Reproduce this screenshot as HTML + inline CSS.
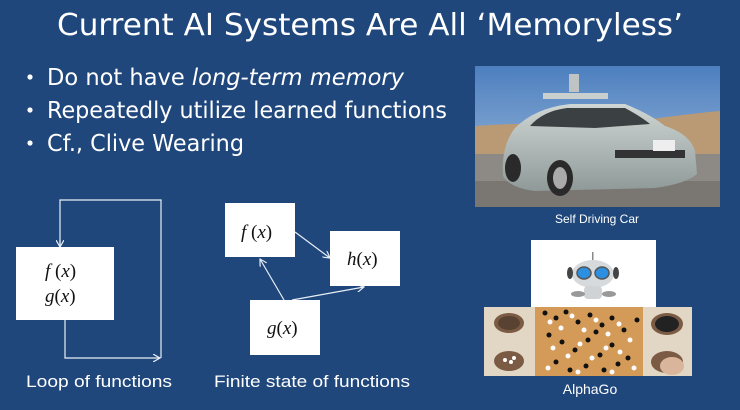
<!DOCTYPE html>
<html><head><meta charset="utf-8"><style>
html,body{margin:0;padding:0;background:#1f477c;}
svg{display:block}
</style></head><body>
<svg width="740" height="410" viewBox="0 0 740 410" xmlns="http://www.w3.org/2000/svg">
<defs>
<marker id="ar" markerWidth="8" markerHeight="8" refX="7" refY="4" orient="auto" markerUnits="userSpaceOnUse">
<path d="M0,0 L7,4 L0,8" fill="none" stroke="#e8eef6" stroke-width="1.2"/>
</marker>
<linearGradient id="sky" x1="0" y1="0" x2="0" y2="1"><stop offset="0" stop-color="#4d7fbf"/><stop offset="1" stop-color="#a9c4df"/></linearGradient>
<linearGradient id="body" x1="0" y1="0" x2="0" y2="1"><stop offset="0" stop-color="#cfd6d4"/><stop offset="1" stop-color="#8f9a98"/></linearGradient>
</defs>
<rect width="740" height="410" fill="#1f477c"/>
<text x="370" y="35" text-anchor="middle" font-family="DejaVu Sans, Liberation Sans, sans-serif" font-size="30" fill="#fff" textLength="626" lengthAdjust="spacingAndGlyphs">Current AI Systems Are All ‘Memoryless’</text>
<g font-family="DejaVu Sans, Liberation Sans, sans-serif" font-size="23" fill="#fff">
<circle cx="30" cy="77" r="2.6"/><circle cx="30" cy="110" r="2.6"/><circle cx="30" cy="143" r="2.6"/>
<text x="47" y="85" textLength="357" lengthAdjust="spacingAndGlyphs">Do not have <tspan font-style="italic">long-term memory</tspan></text>
<text x="47" y="118" textLength="400" lengthAdjust="spacingAndGlyphs">Repeatedly utilize learned functions</text>
<text x="47" y="151" textLength="197" lengthAdjust="spacingAndGlyphs">Cf., Clive Wearing</text>
</g>
<g stroke="#e8eef6" stroke-width="1.2" fill="none">
<polyline points="60,247 60,200 161,200 161,358" />
<line x1="60" y1="240" x2="60" y2="247" marker-end="url(#ar)"/>
<polyline points="65,320 65,358 160,358" marker-end="url(#ar)"/>
<line x1="295" y1="232" x2="330" y2="258" marker-end="url(#ar)"/>
<line x1="284" y1="300" x2="260" y2="259" marker-end="url(#ar)"/>
<line x1="292" y1="300" x2="364" y2="287" marker-end="url(#ar)"/>
</g>
<rect x="16" y="247" width="98" height="73" fill="#fff"/>
<rect x="225" y="203" width="70" height="54" fill="#fff"/>
<rect x="330" y="231" width="70" height="55" fill="#fff"/>
<rect x="250" y="300" width="70" height="55" fill="#fff"/>
<g font-family="Liberation Serif, serif" font-size="19" fill="#111">
<text x="45" y="277"><tspan font-style="italic">f</tspan> (<tspan font-style="italic">x</tspan>)</text>
<text x="45" y="302"><tspan font-style="italic">g</tspan>(<tspan font-style="italic">x</tspan>)</text>
<text x="241" y="238"><tspan font-style="italic">f</tspan> (<tspan font-style="italic">x</tspan>)</text>
<text x="347" y="265"><tspan font-style="italic">h</tspan>(<tspan font-style="italic">x</tspan>)</text>
<text x="267" y="334"><tspan font-style="italic">g</tspan>(<tspan font-style="italic">x</tspan>)</text>
</g>
<g font-family="Liberation Sans, sans-serif" font-size="17" fill="#fff">
<text x="26" y="387" textLength="146" lengthAdjust="spacingAndGlyphs">Loop of functions</text>
<text x="214" y="387" textLength="196" lengthAdjust="spacingAndGlyphs">Finite state of functions</text>
</g>
<svg x="475" y="66" width="245" height="141" viewBox="0 0 245 141">
<rect width="245" height="141" fill="url(#sky)"/>
<path d="M0,60 Q60,55 120,62 Q190,50 245,45 L245,90 L0,95Z" fill="#b99a74"/>
<rect y="88" width="245" height="53" fill="#8d8a86"/>
<rect y="115" width="245" height="26" fill="#7a7773"/>
<path d="M28,110 Q26,80 40,62 Q60,42 95,38 L150,38 Q175,48 190,60 Q215,68 220,85 L222,108 Q210,118 180,122 L60,125 Q35,122 28,110Z" fill="url(#body)"/>
<path d="M55,60 Q68,45 92,42 L150,42 Q165,50 175,58 L120,62 Z" fill="#3b4043"/>
<rect x="68" y="27" width="65" height="6" fill="#c9cfcf"/>
<rect x="94" y="8" width="10" height="18" fill="#bfc3c4"/>
<ellipse cx="85" cy="112" rx="13" ry="18" fill="#2a2a2a"/><ellipse cx="85" cy="112" rx="7" ry="11" fill="#aaa"/>
<ellipse cx="38" cy="102" rx="8" ry="14" fill="#2a2a2a"/>
<rect x="140" y="84" width="70" height="8" fill="#333"/>
<rect x="178" y="74" width="22" height="11" fill="#eee"/>
</svg>
<text x="597" y="223" text-anchor="middle" font-family="Liberation Sans, sans-serif" font-size="12" fill="#fff">Self Driving Car</text>
<rect x="531" y="240" width="125" height="67" fill="#fff"/>
<g>
<rect x="592" y="252" width="1.5" height="8" fill="#888"/>
<ellipse cx="593" cy="274" rx="21" ry="14" fill="#d7dadd"/>
<ellipse cx="584" cy="273" rx="7" ry="6" fill="#2c8fe0" stroke="#555" stroke-width="1.5"/>
<ellipse cx="602" cy="273" rx="7" ry="6" fill="#2c8fe0" stroke="#555" stroke-width="1.5"/>
<ellipse cx="570" cy="273" rx="3" ry="6" fill="#444"/><ellipse cx="616" cy="273" rx="3" ry="6" fill="#444"/>
<rect x="584" y="286" width="18" height="13" rx="4" fill="#cfd3d6"/>
<ellipse cx="578" cy="294" rx="7" ry="3" fill="#999"/><ellipse cx="609" cy="294" rx="7" ry="3" fill="#999"/>
</g>
<rect x="484" y="307" width="208" height="69" fill="#e2d6c4"/>
<rect x="535" y="307" width="108" height="69" fill="#d49a58"/>
<ellipse cx="509" cy="323" rx="15" ry="10" fill="#7b5b44"/><ellipse cx="509" cy="323" rx="11" ry="7" fill="#5a4232"/>
<ellipse cx="509" cy="361" rx="15" ry="10" fill="#7b5b44"/>
<circle cx="505" cy="360" r="2" fill="#fff"/><circle cx="511" cy="362" r="2" fill="#fff"/><circle cx="514" cy="358" r="2" fill="#fff"/>
<ellipse cx="667" cy="324" rx="16" ry="11" fill="#7b5b44"/><ellipse cx="667" cy="324" rx="12" ry="8" fill="#222"/>
<ellipse cx="667" cy="362" rx="16" ry="11" fill="#7b5b44"/><ellipse cx="672" cy="366" rx="12" ry="9" fill="#d9b59b"/>
<g fill="#111">
<circle cx="545" cy="313" r="2.5"/><circle cx="556" cy="318" r="2.5"/><circle cx="566" cy="312" r="2.5"/><circle cx="578" cy="322" r="2.5"/><circle cx="590" cy="315" r="2.5"/><circle cx="602" cy="325" r="2.5"/><circle cx="612" cy="318" r="2.5"/><circle cx="624" cy="330" r="2.5"/><circle cx="549" cy="335" r="2.5"/><circle cx="562" cy="342" r="2.5"/><circle cx="575" cy="350" r="2.5"/><circle cx="588" cy="340" r="2.5"/><circle cx="600" cy="355" r="2.5"/><circle cx="612" cy="345" r="2.5"/><circle cx="628" cy="358" r="2.5"/><circle cx="556" cy="362" r="2.5"/><circle cx="570" cy="370" r="2.5"/><circle cx="586" cy="366" r="2.5"/><circle cx="604" cy="370" r="2.5"/><circle cx="618" cy="364" r="2.5"/><circle cx="637" cy="320" r="2.5"/><circle cx="596" cy="332" r="2.5"/>
</g>
<g fill="#fafafa">
<circle cx="550" cy="322" r="2.5"/><circle cx="561" cy="328" r="2.5"/><circle cx="572" cy="316" r="2.5"/><circle cx="584" cy="330" r="2.5"/><circle cx="596" cy="320" r="2.5"/><circle cx="608" cy="334" r="2.5"/><circle cx="619" cy="324" r="2.5"/><circle cx="630" cy="340" r="2.5"/><circle cx="553" cy="348" r="2.5"/><circle cx="568" cy="356" r="2.5"/><circle cx="580" cy="344" r="2.5"/><circle cx="592" cy="358" r="2.5"/><circle cx="606" cy="348" r="2.5"/><circle cx="620" cy="352" r="2.5"/><circle cx="548" cy="368" r="2.5"/><circle cx="578" cy="372" r="2.5"/><circle cx="612" cy="372" r="2.5"/><circle cx="634" cy="368" r="2.5"/>
</g>
<text x="590" y="394" text-anchor="middle" font-family="Liberation Sans, sans-serif" font-size="14" fill="#fff">AlphaGo</text>
</svg>
</body></html>
